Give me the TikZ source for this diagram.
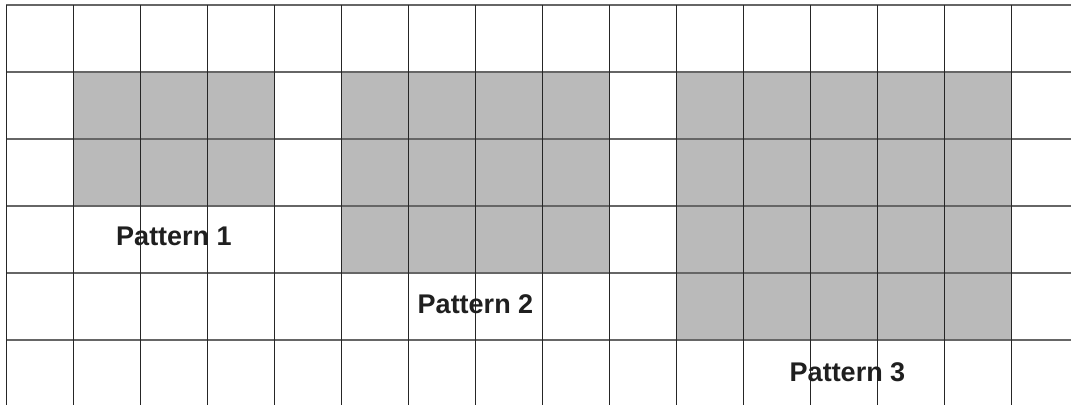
\documentclass[tikz,border=0pt]{standalone}
\usepackage{fontspec}
\setmainfont{Liberation Sans}
\begin{document}
\begin{tikzpicture}[x=1pt,y=-1pt,
  hline/.style={draw=black!60,line width=1.3pt},
  vline/.style={draw=black!85,line width=1pt},
  shade/.style={fill=black!27},
  plabel/.style={font=\bfseries\fontsize{27}{31}\selectfont,text=black!88,inner sep=0pt}]
\useasboundingbox (0,0) rectangle (1071,405);
\fill[white] (0,0) rectangle (1071,405);
% shaded patterns
\fill[shade] (73,72) rectangle (274,206);
\fill[shade] (341,72) rectangle (609,273);
\fill[shade] (676,72) rectangle (1011,340);
% horizontal lines
\foreach \y in {5,72,139,206,273,340} \draw[hline] (6,\y) -- (1071,\y);
% vertical lines
\foreach \i in {0,...,15} \draw[vline] (6+67*\i,5) -- (6+67*\i,405);
% labels
\node[plabel] (p1) at (174,236) {Pattern 1};
\node[plabel] (p2) at (475.5,304) {Pattern 2};
\node[plabel] (p3) at (847.5,372) {Pattern 3};
\end{tikzpicture}
\end{document}
